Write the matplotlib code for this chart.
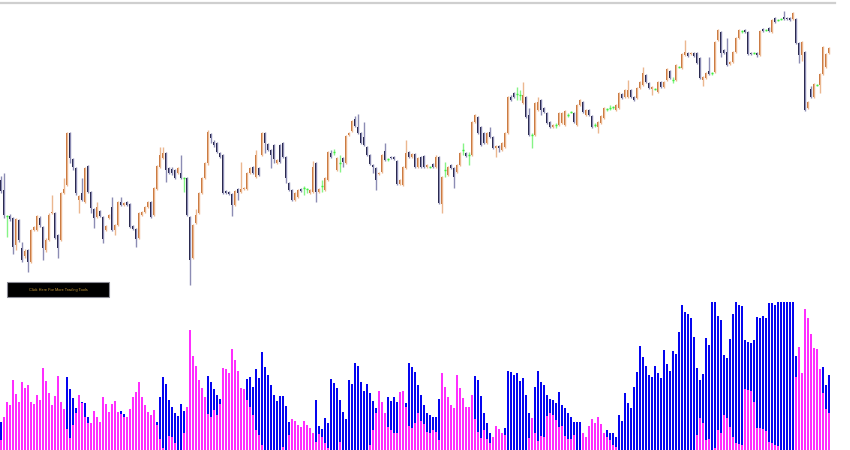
import matplotlib
matplotlib.use('Agg')
import matplotlib.pyplot as plt
import numpy as np
from matplotlib.patches import Rectangle

# Candle prices (points), oldest first
opens = [
    120, 110, 84, 84, 82, 55, 80, 52, 44, 50, 38, 70, 70, 82, 73, 50, 60, 87, 87, 65,
    60, 107, 115, 167, 141, 132, 100, 107, 98, 134, 108, 91, 83, 89, 83, 70, 82, 93, 70, 75,
    98, 95, 98, 96, 74, 71, 62, 85, 88, 93, 98, 85, 111, 133, 142, 147, 132, 131, 130, 127,
    127, 122, 122, 83, 42, 77, 87, 107, 122, 137, 166, 158, 157, 147, 145, 109, 108, 106, 95, 111,
    108, 111, 111, 127, 133, 123, 132, 145, 167, 156, 150, 155, 137, 155, 157, 143, 117, 110, 100, 103,
    111, 112, 111, 107, 108, 137, 108, 114, 110, 120, 147, 148, 130, 137, 142, 137, 165, 169, 181, 173,
    167, 163, 153, 145, 135, 132, 126, 128, 149, 141, 143, 143, 139, 116, 115, 132, 148, 143, 146, 133,
    143, 144, 133, 133, 136, 133, 143, 96, 130, 125, 135, 132, 128, 135, 150, 147, 145, 145, 178, 183,
    173, 167, 157, 168, 163, 152, 154, 150, 153, 167, 203, 207, 206, 205, 197, 203, 185, 165, 165, 190,
    200, 192, 187, 178, 173, 175, 175, 177, 175, 185, 188, 187, 175, 195, 198, 185, 190, 184, 175, 173,
    177, 182, 191, 192, 193, 190, 192, 206, 203, 203, 210, 203, 202, 212, 215, 225, 217, 211, 211, 208,
    218, 213, 220, 229, 220, 220, 233, 232, 245, 247, 246, 247, 247, 242, 220, 222, 229, 227, 228, 260,
    268, 250, 248, 236, 238, 248, 262, 269, 270, 268, 247, 247, 247, 245, 271, 270, 272, 268, 282, 280,
    281, 283, 282, 282, 281, 281, 257, 245, 248, 192, 211, 203, 215, 215, 226, 233, 247,
]
closes = [
    109, 85, 84, 81, 53, 81, 60, 40, 49, 38, 70, 73, 84, 75, 52, 60, 85, 88, 62, 52,
    107, 111, 167, 142, 133, 107, 104, 100, 132, 108, 92, 82, 93, 84, 61, 74, 85, 70, 75, 98,
    95, 97, 95, 73, 71, 61, 87, 88, 93, 98, 83, 112, 134, 145, 147, 130, 127, 127, 122, 132,
    122, 122, 85, 40, 75, 85, 107, 122, 137, 168, 162, 155, 148, 143, 107, 107, 106, 95, 109, 107,
    111, 112, 127, 132, 127, 145, 125, 167, 157, 150, 145, 141, 140, 138, 143, 122, 110, 100, 107, 110,
    109, 112, 111, 110, 133, 108, 111, 114, 122, 148, 143, 148, 142, 137, 138, 164, 167, 179, 174, 167,
    157, 155, 145, 136, 133, 120, 127, 145, 140, 141, 142, 141, 116, 120, 133, 147, 143, 146, 133, 142,
    133, 133, 135, 133, 133, 143, 97, 123, 130, 133, 132, 123, 135, 147, 150, 144, 145, 178, 185, 167,
    155, 157, 167, 163, 152, 154, 152, 157, 167, 203, 200, 203, 206, 205, 205, 183, 165, 165, 197, 198,
    190, 188, 177, 173, 175, 175, 187, 187, 189, 185, 188, 178, 195, 200, 188, 190, 185, 173, 175, 178,
    184, 192, 191, 192, 193, 195, 207, 202, 210, 210, 203, 200, 212, 218, 227, 218, 212, 213, 211, 218,
    213, 218, 231, 222, 220, 235, 233, 246, 248, 244, 247, 244, 237, 222, 223, 227, 226, 227, 258, 270,
    247, 247, 235, 238, 248, 262, 270, 269, 268, 246, 246, 247, 245, 269, 269, 270, 269, 280, 278, 280,
    281, 281, 281, 280, 287, 257, 245, 258, 190, 198, 203, 216, 215, 226, 253, 246, 252,
]
highs = [
    124, 127, 85, 86, 83, 82, 81, 58, 51, 51, 71, 74, 85, 84, 74, 62, 87, 105, 88, 66,
    108, 122, 168, 168, 142, 133, 105, 122, 133, 135, 109, 92, 98, 90, 84, 75, 86, 103, 76, 99,
    103, 98, 99, 97, 75, 72, 88, 89, 94, 99, 99, 113, 135, 153, 153, 148, 133, 133, 131, 133,
    145, 123, 123, 84, 76, 91, 108, 123, 138, 170, 167, 160, 158, 148, 146, 110, 109, 107, 110, 112,
    138, 113, 128, 133, 134, 150, 133, 168, 168, 157, 151, 156, 141, 156, 158, 144, 118, 111, 108, 111,
    112, 114, 112, 111, 139, 138, 112, 120, 123, 149, 150, 151, 143, 145, 143, 165, 168, 180, 184, 186,
    168, 178, 154, 146, 136, 133, 128, 146, 157, 142, 144, 144, 140, 121, 134, 160, 149, 147, 147, 143,
    144, 145, 136, 134, 137, 145, 144, 124, 138, 134, 136, 133, 136, 148, 157, 148, 148, 179, 186, 184,
    174, 168, 168, 173, 164, 155, 155, 158, 168, 204, 205, 208, 213, 210, 218, 204, 192, 167, 198, 203,
    201, 193, 188, 179, 176, 177, 188, 188, 190, 187, 189, 188, 196, 201, 199, 191, 191, 185, 177, 179,
    185, 193, 192, 195, 194, 196, 208, 207, 211, 220, 211, 204, 213, 219, 233, 226, 218, 214, 212, 219,
    219, 219, 232, 230, 223, 236, 234, 247, 260, 248, 248, 248, 248, 243, 224, 228, 243, 228, 259, 271,
    269, 251, 262, 239, 249, 263, 271, 270, 271, 269, 248, 248, 248, 270, 272, 271, 273, 281, 283, 281,
    282, 289, 283, 283, 288, 282, 258, 259, 249, 199, 214, 217, 216, 227, 254, 247, 253,
]
lows = [
    107, 82, 63, 79, 46, 50, 58, 38, 42, 28, 37, 69, 69, 73, 40, 48, 59, 86, 61, 42,
    59, 106, 114, 137, 130, 105, 87, 99, 97, 107, 87, 72, 82, 83, 57, 69, 81, 69, 65, 74,
    94, 94, 94, 72, 70, 53, 61, 84, 87, 92, 82, 84, 110, 132, 141, 118, 126, 125, 121, 126,
    121, 108, 84, 15, 41, 76, 86, 106, 121, 135, 157, 153, 147, 142, 106, 106, 105, 84, 94, 100,
    107, 110, 110, 126, 126, 122, 124, 144, 147, 149, 132, 137, 136, 137, 142, 117, 109, 99, 99, 102,
    108, 105, 107, 106, 107, 98, 107, 108, 109, 119, 142, 145, 129, 128, 133, 136, 164, 168, 173, 166,
    156, 154, 144, 135, 127, 110, 125, 127, 139, 139, 141, 140, 115, 115, 114, 131, 142, 142, 132, 132,
    132, 132, 132, 132, 132, 132, 96, 87, 123, 124, 131, 112, 127, 134, 145, 143, 135, 144, 177, 166,
    154, 156, 156, 162, 151, 143, 148, 149, 152, 166, 199, 202, 200, 200, 196, 182, 164, 152, 164, 189,
    185, 187, 176, 172, 172, 172, 174, 176, 174, 183, 187, 177, 174, 194, 187, 184, 184, 172, 173, 167,
    176, 181, 189, 190, 191, 189, 191, 201, 202, 202, 202, 199, 201, 211, 214, 217, 211, 205, 210, 207,
    212, 212, 219, 221, 217, 219, 232, 231, 244, 243, 245, 243, 236, 221, 214, 221, 225, 225, 227, 259,
    243, 246, 234, 235, 237, 247, 261, 267, 267, 245, 245, 246, 243, 244, 268, 269, 268, 267, 277, 279,
    280, 280, 280, 279, 280, 256, 237, 239, 189, 191, 202, 202, 214, 207, 225, 232, 246,
]

# Lower indicator: two histogram buffers (blue behind, magenta in front)
hist_blue = [
    28, 0, 0, 0, 0, 0, 0, 0, 0, 0, 0, 0, 0, 0, 0, 0, 0, 0, 0, 0,
    0, 0, 73, 61, 52, 42, 0, 48, 47, 33, 0, 0, 0, 0, 0, 0, 0, 0, 0, 0,
    39, 36, 0, 0, 0, 0, 0, 0, 0, 0, 0, 0, 28, 53, 73, 66, 50, 43, 37, 34,
    46, 39, 0, 0, 0, 0, 0, 0, 0, 74, 68, 61, 55, 51, 0, 0, 0, 0, 0, 0,
    0, 0, 71, 73, 63, 81, 72, 98, 83, 75, 65, 55, 49, 54, 54, 44, 28, 0, 0, 0,
    0, 0, 0, 0, 0, 50, 24, 21, 32, 27, 71, 67, 62, 50, 38, 31, 70, 66, 87, 84,
    68, 59, 66, 57, 49, 42, 0, 0, 0, 53, 49, 53, 48, 0, 0, 47, 87, 83, 78, 65,
    55, 45, 37, 35, 33, 33, 51, 0, 0, 0, 0, 0, 0, 0, 0, 0, 0, 0, 74, 70,
    54, 37, 27, 17, 0, 0, 0, 0, 22, 79, 78, 75, 77, 69, 72, 55, 37, 0, 63, 79,
    68, 65, 55, 51, 50, 47, 58, 45, 42, 37, 33, 28, 28, 28, 0, 0, 0, 0, 0, 0,
    0, 0, 20, 17, 17, 13, 35, 29, 57, 47, 42, 63, 78, 104, 93, 84, 75, 73, 84, 77,
    72, 100, 86, 79, 99, 96, 118, 145, 138, 136, 132, 113, 82, 70, 76, 112, 105, 148, 148, 134,
    130, 95, 92, 111, 136, 148, 145, 144, 110, 108, 107, 110, 133, 132, 134, 132, 147, 147, 145, 148,
    148, 148, 148, 148, 148, 94, 0, 0, 0, 0, 0, 0, 0, 0, 83, 65, 75,
]
hist_pink = [
    10, 33, 48, 45, 70, 56, 48, 68, 62, 65, 48, 46, 55, 50, 82, 69, 57, 45, 54, 74,
    48, 41, 21, 12, 25, 37, 55, 47, 33, 27, 27, 39, 33, 28, 53, 46, 38, 46, 49, 38,
    36, 33, 33, 41, 53, 58, 68, 53, 45, 38, 35, 40, 25, 11, 2, 0, 14, 13, 7, 0,
    0, 17, 43, 120, 94, 84, 70, 62, 53, 36, 33, 40, 35, 46, 82, 81, 77, 101, 90, 79,
    62, 61, 50, 43, 35, 20, 15, 5, 0, 0, 0, 0, 0, 0, 3, 0, 15, 31, 29, 25,
    23, 29, 25, 22, 17, 8, 16, 13, 7, 2, 0, 0, 0, 8, 0, 0, 0, 0, 0, 0,
    0, 0, 0, 5, 20, 37, 59, 48, 37, 23, 20, 17, 17, 58, 59, 43, 24, 22, 27, 37,
    29, 26, 18, 17, 20, 18, 10, 77, 63, 53, 45, 42, 75, 62, 52, 43, 43, 55, 31, 18,
    12, 20, 11, 7, 13, 24, 21, 17, 15, 0, 0, 0, 0, 0, 0, 0, 12, 32, 17, 9,
    14, 13, 34, 37, 35, 30, 23, 24, 14, 11, 11, 15, 0, 0, 17, 13, 24, 31, 27, 33,
    26, 17, 13, 10, 5, 3, 0, 0, 0, 0, 0, 0, 0, 0, 0, 0, 0, 0, 0, 0,
    0, 0, 0, 0, 0, 0, 0, 0, 0, 0, 0, 0, 15, 32, 27, 10, 11, 0, 2, 20,
    17, 35, 32, 23, 13, 7, 6, 5, 61, 60, 59, 48, 22, 22, 21, 19, 8, 7, 5, 4,
    0, 0, 0, 0, 0, 73, 103, 77, 141, 132, 116, 102, 101, 81, 57, 41, 37,
]

# Colours
BULL = '#c26d32'
BULL_WICK = '#ebb78f'
BEAR = '#141338'
BEAR_WICK = '#8c8cb4'
DOJI = '#3fee3f'
DOJI_WICK = '#86f486'
BLUE = '#0505f0'
PINK = '#ff2eff'

n = min(len(opens), len(closes), len(highs), len(lows), len(hist_blue), len(hist_pink))
o = np.array(opens[:n], dtype=float)
c = np.array(closes[:n], dtype=float)
h = np.array(highs[:n], dtype=float)
l = np.array(lows[:n], dtype=float)
x = np.arange(n)

up = c > o
down = c < o
flat = c == o

fig = plt.figure(figsize=(8.5, 4.5), dpi=100)
fig.patch.set_facecolor('white')

# Price panel (whole figure, candles in upper part)
ax = fig.add_axes([0, 0, 1, 1])
ax.patch.set_visible(False)
wick_colors = np.where(up, BULL_WICK, np.where(down, BEAR_WICK, DOJI_WICK))
ax.vlines(x, l, h, colors=wick_colors, linewidth=1.0)
body_colors = np.where(up, BULL, BEAR)
body = ~flat
ax.bar(x[body], np.abs(c - o)[body], bottom=np.minimum(o, c)[body],
       width=2 / 3, color=body_colors[body], linewidth=0)
ax.hlines(o[flat], x[flat] - 0.35, x[flat] + 0.35, colors=DOJI, linewidth=1.0)
ax.set_xlim(-1 / 3, 850 / 3 - 1 / 3)
ax.set_ylim(-150, 300)
ax.axhline(297, xmin=0, xmax=835 / 850, color='#cfcfcf', linewidth=1.6)
ax.axis('off')

# Indicator panel
hx = fig.add_axes([0, 0, 1, 148 / 450])
hx.patch.set_visible(False)
hx.bar(x, hist_blue[:n], width=0.7, color=BLUE, linewidth=0)
hx.bar(x, hist_pink[:n], width=0.7, color=PINK, linewidth=0)
hx.set_xlim(-1 / 3, 850 / 3 - 1 / 3)
hx.set_ylim(0, 148)
hx.axis('off')

# "Click here" button
btn = Rectangle((7 / 850, 153 / 450), 102 / 850, 15 / 450, transform=fig.transFigure,
                facecolor='black', edgecolor='#8c8c96', linewidth=0.8)
fig.add_artist(btn)
fig.text(58 / 850, 160.5 / 450, 'Click Here For More Trading Tools', color='#c99a3a',
         fontsize=2.8, family='Liberation Sans', ha='center', va='center')

fig.savefig('out.png', dpi=100, facecolor='white')
